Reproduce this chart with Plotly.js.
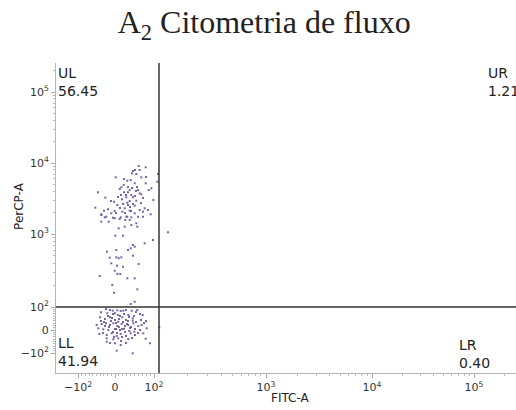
<!DOCTYPE html>
<html>
<head>
<meta charset="utf-8">
<script src="https://cdn.plot.ly/plotly-3.0.1.min.js"></script>
<style>html,body{margin:0;padding:0;background:#fff;}#chart{width:516px;height:410px;}</style>
</head>
<body>
<div id="chart"></div>
<script>
// Display-channel coordinates (biexponential display scale)
const xTickVals = [22, 59, 98, 210, 316, 418];
const xTickText = ['−10<sup>2</sup>', '0', '10<sup>2</sup>', '10<sup>3</sup>', '10<sup>4</sup>', '10<sup>5</sup>'];
const yTickVals = [20, 43, 66, 139, 210, 281];
const yTickText = ['−10<sup>2</sup>', '0', '10<sup>2</sup>', '10<sup>3</sup>', '10<sup>4</sup>', '10<sup>5</sup>'];

const gateX = 103;
const gateY = 66;

const quadLabels = ['UL', 'UR', 'LL', 'LR'];
const quadPercents = ['56.45', '1.21', '41.94', '0.40'];

const eventsX = [
 82.7,89.7,79,83.7,76,80.3,85.3,59.7,74.7,71.3,78.7,89.7,67.7,65.3,63.7,73.7,95.3,82,92.7,68,72,42,75.3,83.7,85.3,49.3,70.3,77,66,73.7,80.3,97.3,58,71.3,67,77,61.3,78.7,39.3,68.7,52,88.7,83.7,92,48,58.7,66.3,73.7,78.7,87,45.3,55.3,94.7,70.3,64.7,75.3,82,58.7,48.7,102,101.3,
 45.3,50.3,57,63.7,69.3,73.7,71.3,87,45.3,52.7,80.3,75.3,81.3,68.7,62.7,
 72,76,70,74,79,65,62,72,81,68,85,60,75,80,55,64,87,90,77,69,
 112,59.3,67,97,88.7,77,78.7,74.7,72,51,60.3,77,60.3,65.3,53.7,62.7,55.3,82.7,61,67,58.7,61.3,64.3,43.7,71.3,78.7,56.3,58,81.3,78.7,74.7,
 50,54,56.7,61.3,64.7,67.3,70,75.7,81.3,45,51.3,59,64,66.3,72.3,84,86.7,44,49,54,59,62.3,76.7,76.7,40.7,45.7,50,54,57.3,61.3,65.7,69,72.3,77.3,82.3,85.7,90.7,42.3,47.3,52.3,59,64,68,73.3,78.3,84,43.3,50.7,55.7,60.7,64.7,70,74.7,79,87.3,50.7,57.3,62.3,72.3,89.7,50.7,59,64.7,94,60.7,76.7,103.3,
 55,60,63,67,70,74,57,61,66,69,72,75,79,53,48,47,56,62,68,80,82,58,65,70,54,76,73,85,88,45,52,60,66,71,63,78,49,57,80,90
];
const eventsY = [
 207,205.7,203,203,199.7,199,195.7,195.7,193,192.3,189.7,189.7,188,185.7,184,183,184.7,183,183,180.7,180.7,180.7,178,179.7,178.7,175.3,175.7,175.7,173.7,172,172.3,173,171.3,170.3,169,169,168,167.3,165.3,164.7,163.7,164.7,163,163,162.3,162,161.3,162.3,159.7,161.3,158.7,159.7,158.7,156.3,155.7,155.7,156.3,154.7,155.7,199,191.3,
 158,156.3,155.3,154,153,153,156.3,156.3,151.3,151.3,149.7,148,146.3,146.3,144.7,
 186,185,178,166,177,178,176,168,186,194,170,160,162,182,172,165,175,196,202,160,
 140.7,137.3,137.3,133,129.7,128,126.3,124.7,123,121.3,123,117.3,115.7,115.7,115.3,114.7,109.7,109,107.3,106.3,102.3,99,99,97,94.7,94.7,88,80.3,83.7,71.3,69,
 64,63,62.3,62.7,62,62.3,63,62.3,63,60.7,59.7,59.7,57,55.7,58,59,58,55.7,54,55.7,53,51.3,54.7,52.3,48,49,49.7,48,49.7,47,49,47,48,49.7,47,48,44.7,44.7,43.7,43,44,43,44.3,42,41.3,43,39,38,39.7,37,39,37,39.7,38,39.7,34.7,33.7,34.7,34,34.3,31.3,29.7,28,29.7,22.3,19.7,45.7,
 52,50,46,51,53,45,41,40,36,41,52,46,44,46,51,40,55,58,59,51,40,36,32,30,30,35,56,53,50,52,57,44,44,49,54,57,47,59,61,52
];

function logMinor(start, decade, end) {
  const out = [];
  for (let d = 0; d < 6; d++) {
    for (let k = 2; k <= 9; k++) {
      const v = start + decade * d + decade * Math.log10(k);
      if (v < end) out.push(v);
    }
  }
  return out;
}
function linMinor(neg, zero, pos) {
  const out = [];
  for (let i = -9; i <= 9; i++) {
    if (i === 0) continue;
    out.push(i < 0 ? zero + (zero - neg) * i / 10 : zero + (pos - zero) * i / 10);
  }
  return out;
}
const xMinor = linMinor(22, 59, 98).concat(
  logMinor(98, 112, 210), logMinor(210, 106, 316), logMinor(316, 102, 418), logMinor(418, 100, 460));
const yMinor = linMinor(20, 43, 66).concat(
  logMinor(66, 73, 139), logMinor(139, 71, 210), logMinor(210, 71, 281), logMinor(281, 71, 310));

const sans = 'DejaVu Sans, Verdana, sans-serif';
const tickFont = {family: sans, size: 11, color: '#333'};
const labFont = {family: sans, size: 14, color: '#222'};

const trace = {
  x: eventsX, y: eventsY, type: 'scatter', mode: 'markers',
  marker: {size: 2, color: '#5e4a9a', opacity: 0.85, symbol: 'square', line: {width: 0}},
  hoverinfo: 'skip', showlegend: false
};

const annotations = [
  {x: 1, y: 309, text: quadLabels[0] + '<br>' + quadPercents[0]},
  {x: 431, y: 309, text: quadLabels[1] + '<br>' + quadPercents[1]},
  {x: 1, y: 39, text: quadLabels[2] + '<br>' + quadPercents[2]},
  {x: 402, y: 37, text: quadLabels[3] + '<br>' + quadPercents[3]}
].map(a => Object.assign({xref: 'x', yref: 'y', xanchor: 'left', yanchor: 'top', showarrow: false,
  align: 'left', font: labFont, borderpad: 0}, a));

annotations.push({xref: 'paper', yref: 'paper', x: 0.509, y: -0.052, xanchor: 'center', yanchor: 'top',
  text: 'FITC-A', showarrow: false, font: {family: sans, size: 12, color: '#222'}});
annotations.push({xref: 'paper', yref: 'paper', x: -0.082, y: 0.54, xanchor: 'center', yanchor: 'middle',
  text: 'PerCP-A', textangle: -90, showarrow: false, font: {family: sans, size: 12, color: '#222'}});

const layout = {
  width: 516, height: 410,
  margin: {l: 56, r: 0, t: 63, b: 37},
  paper_bgcolor: '#fff', plot_bgcolor: '#fff',
  title: {text: 'A<sub>2</sub> Citometria de fluxo', x: 0.512, xanchor: 'center', xref: 'container',
    y: 1 - 22 / 410, yref: 'container', yanchor: 'middle',
    font: {family: 'Liberation Serif, Times New Roman, serif', size: 32, color: '#222'}},
  xaxis: {range: [0, 460], tickmode: 'array', tickvals: xTickVals, ticktext: xTickText,
    showgrid: false, zeroline: false, showline: true, linecolor: '#b5b5b5', linewidth: 1,
    ticks: 'outside', ticklen: 4, tickcolor: '#aaa', tickfont: tickFont,
    minor: {tickmode: 'array', tickvals: xMinor, ticks: 'outside', ticklen: 2, tickcolor: '#bbb', showgrid: false},
    fixedrange: true},
  yaxis: {range: [0, 310], tickmode: 'array', tickvals: yTickVals, ticktext: yTickText,
    showgrid: false, zeroline: false, showline: true, linecolor: '#b5b5b5', linewidth: 1,
    ticks: 'outside', ticklen: 4, tickcolor: '#aaa', tickfont: tickFont,
    minor: {tickmode: 'array', tickvals: yMinor, ticks: 'outside', ticklen: 2, tickcolor: '#bbb', showgrid: false},
    fixedrange: true},
  shapes: [
    {type: 'line', xref: 'x', yref: 'paper', x0: gateX, x1: gateX, y0: 0, y1: 1, line: {color: '#333', width: 1.5}},
    {type: 'line', xref: 'paper', yref: 'y', x0: 0, x1: 1, y0: gateY, y1: gateY, line: {color: '#333', width: 1.5}}
  ],
  annotations: annotations
};

Plotly.newPlot('chart', [trace], layout, {displayModeBar: false, staticPlot: true});
</script>
</body>
</html>
